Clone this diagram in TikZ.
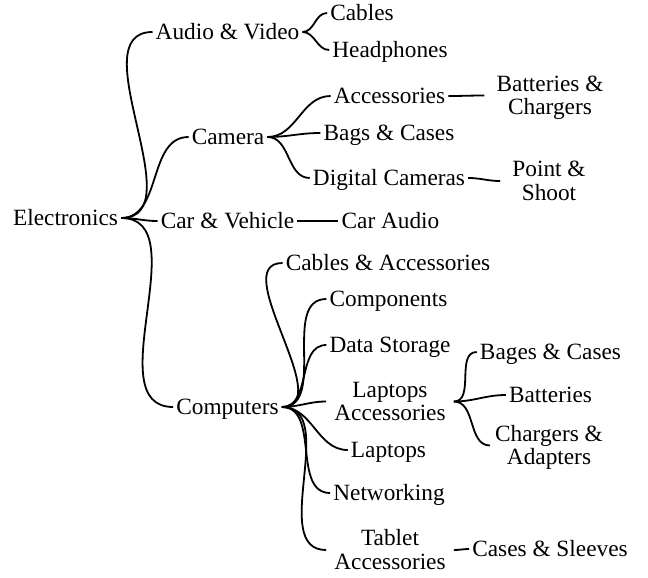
\documentclass[tikz,border=0pt]{standalone}
\usepackage{fontspec}
\setmainfont{Liberation Serif}
\begin{document}
\begin{tikzpicture}[x=1pt,y=-1pt,
  every node/.style={font=\fontsize{23.3}{23.5}\selectfont, inner xsep=3pt, inner ysep=0pt, text height=15.4pt, text depth=0pt},
  two/.style={align=center, text height=38.9pt, text depth=0pt, inner xsep=8pt},
  link/.style={line width=1.8pt}]
\useasboundingbox (0,0) rectangle (648,578);
% level 0
\node (el) at (65.5,218) {Electronics};
% level 1
\node (av) at (227.5,32) {Audio \& Video};
\node (ca) at (228,137) {Camera};
\node (cv) at (227.5,221) {Car \& Vehicle};
\node (co) at (227.5,407) {Computers};
% level 2
\node (cb) at (362,13) {Cables};
\node (hp) at (390,50) {Headphones};
\node (ac) at (389.5,96) {Accessories};
\node (bc) at (389,133) {Bags \& Cases};
\node (dc) at (389,178) {Digital Cameras};
\node (cau) at (390.5,221) {Car Audio};
\node (cba) at (388,263) {Cables \& Accessories};
\node (cm) at (388.5,299) {Components};
\node (ds) at (390,345) {Data Storage};
\node[two] (la) at (390,401.5) {Laptops\\Accessories};
\node (lp) at (388.5,450) {Laptops};
\node (nw) at (389,493) {Networking};
\node[two] (ta) at (390,550) {Tablet\\Accessories};
% level 3
\node[two, inner xsep=12pt] (bch) at (550,95.5) {Batteries \&\\Chargers};
\node[two, inner xsep=12pt] (ps) at (549,181) {Point \&\\Shoot};
\node (bgc) at (550.5,352) {Bages \& Cases};
\node (bt) at (550.5,395) {Batteries};
\node[two, inner xsep=5pt] (chad) at (549,445.5) {Chargers \&\\Adapters};
\node (cs) at (550,549) {Cases \& Sleeves};
% connectors
\foreach \p/\c in {el/av, el/ca, el/cv, el/co,
  av/cb, av/hp,
  ca/ac, ca/bc, ca/dc,
  ac/bch, dc/ps,
  cv/cau,
  co/cba, co/cm, co/ds, co/la, co/lp, co/nw, co/ta,
  la/bgc, la/bt, la/chad,
  ta/cs}
  \draw[link] (\p.east) to[out=0,in=180] (\c.west);
\end{tikzpicture}
\end{document}
